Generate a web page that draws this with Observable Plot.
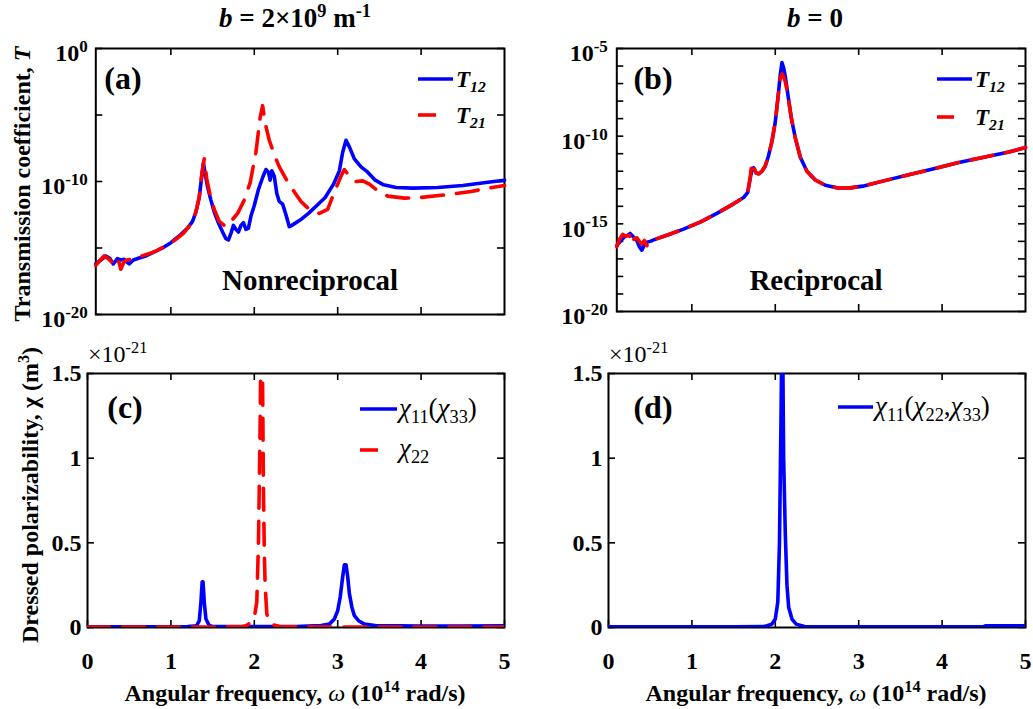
<!DOCTYPE html>
<html>
<head>
<meta charset="utf-8">
<script src="https://cdn.jsdelivr.net/npm/d3@7"></script>
<script src="https://cdn.jsdelivr.net/npm/@observablehq/plot@0.6"></script>
<style>
  body { margin: 0; background: #fff; }
  #root { position: relative; width: 1033px; height: 709px; font-family: "Liberation Serif", "Times New Roman", serif; color: #000; overflow: hidden; }
  .pl { position: absolute; }
  .lab { position: absolute; white-space: nowrap; line-height: 1; font-weight: bold; }
  .c { transform: translate(-50%, -50%); }
  .rot { transform: translate(-50%, -50%) rotate(-90deg); }
  sup { font-size: 0.68em; vertical-align: 0; position: relative; top: -0.55em; line-height: 0; }
  sub { font-size: 0.68em; vertical-align: 0; position: relative; top: 0.3em; line-height: 0; }
  .leg { position: absolute; white-space: nowrap; line-height: 1; }
</style>
</head>
<body>
<div id="root"></div>
<script>
// ---------------- DATA ----------------
// Panel (a): b = 2e9 m^-1, transmission (log10 T) vs angular frequency (1e14 rad/s)
const omegaA12 = [0.10,0.16,0.22,0.27,0.31,0.36,0.40,0.44,0.47,0.50,0.55,0.62,0.70,0.80,0.90,1.00,1.10,1.20,1.26,1.30,1.34,1.37,1.39,1.41,1.44,1.48,1.52,1.57,1.62,1.66,1.69,1.72,1.75,1.78,1.81,1.84,1.87,1.90,1.93,1.96,2.00,2.05,2.10,2.14,2.17,2.19,2.21,2.24,2.27,2.30,2.34,2.38,2.42,2.45,2.55,2.65,2.75,2.85,2.95,3.02,3.06,3.10,3.14,3.20,3.28,3.36,3.45,3.55,3.70,3.90,4.20,4.50,4.80,5.00];
const logT12A  = [-16.2,-15.9,-15.6,-15.8,-16.2,-15.8,-15.9,-15.85,-16.05,-16.2,-15.9,-15.75,-15.6,-15.3,-15.0,-14.6,-14.1,-13.5,-13.0,-12.3,-11.2,-9.6,-8.6,-9.4,-10.4,-11.4,-12.3,-13.1,-13.8,-14.3,-14.4,-13.9,-13.3,-13.6,-13.8,-13.3,-13.1,-13.6,-13.5,-12.6,-11.8,-10.6,-9.7,-9.1,-9.3,-9.9,-9.2,-9.6,-10.9,-11.5,-11.7,-12.5,-13.4,-13.3,-12.9,-12.4,-11.8,-11.2,-10.2,-9.2,-7.8,-6.9,-7.4,-8.3,-8.9,-9.3,-9.9,-10.25,-10.45,-10.5,-10.45,-10.3,-10.05,-9.9];
const omegaA21 = [0.10,0.14,0.20,0.25,0.29,0.34,0.37,0.40,0.44,0.48,0.55,0.65,0.80,0.95,1.05,1.15,1.24,1.30,1.34,1.37,1.40,1.43,1.47,1.52,1.58,1.66,1.72,1.80,1.88,1.95,2.02,2.07,2.10,2.13,2.18,2.24,2.30,2.38,2.46,2.56,2.66,2.78,2.88,2.96,3.04,3.08,3.14,3.22,3.30,3.38,3.48,3.60,3.80,4.00,4.30,4.60,4.85,5.00];
const logT21A  = [-16.3,-16.0,-15.6,-15.8,-16.05,-15.65,-15.9,-16.6,-16.0,-15.9,-15.8,-15.6,-15.3,-14.8,-14.4,-13.9,-13.2,-12.3,-11.2,-9.5,-8.3,-9.8,-11.0,-12.1,-13.0,-13.4,-13.0,-12.4,-11.4,-10.1,-7.8,-5.2,-4.3,-5.6,-6.9,-8.0,-8.9,-9.8,-10.6,-11.5,-12.1,-12.4,-12.1,-10.8,-9.6,-9.1,-9.6,-10.0,-9.95,-10.2,-10.7,-11.1,-11.25,-11.2,-11.0,-10.75,-10.45,-10.3];

// Panel (b): b = 0
const omegaB12 = [0.10,0.15,0.19,0.23,0.26,0.30,0.34,0.37,0.40,0.43,0.46,0.50,0.55,0.70,0.90,1.10,1.30,1.50,1.62,1.67,1.70,1.72,1.74,1.77,1.80,1.84,1.88,1.92,1.96,2.00,2.03,2.06,2.08,2.10,2.12,2.15,2.19,2.24,2.30,2.38,2.48,2.60,2.75,2.90,3.05,3.30,3.60,3.90,4.20,4.50,4.80,5.00];
const logT12B  = [-16.24,-15.95,-15.75,-15.65,-15.55,-15.75,-15.95,-16.3,-16.5,-16.2,-16.05,-16.0,-15.9,-15.65,-15.3,-14.9,-14.4,-13.86,-13.5,-13.2,-12.4,-11.9,-11.8,-12.1,-12.15,-12.0,-11.7,-11.1,-10.3,-9.2,-7.9,-6.5,-5.8,-6.1,-6.6,-7.6,-8.9,-10.1,-11.2,-12.0,-12.5,-12.8,-12.95,-12.95,-12.85,-12.55,-12.2,-11.86,-11.5,-11.2,-10.9,-10.65];
const omegaB21 = [0.10,0.13,0.17,0.21,0.25,0.28,0.31,0.34,0.37,0.40,0.43,0.46,0.50,0.55,0.70,0.90,1.10,1.30,1.50,1.62,1.67,1.70,1.72,1.74,1.77,1.80,1.84,1.88,1.92,1.96,2.00,2.03,2.06,2.08,2.10,2.12,2.15,2.19,2.24,2.30,2.38,2.48,2.60,2.75,2.90,3.05,3.30,3.60,3.90,4.20,4.50,4.80,5.00];
const logT21B  = [-16.3,-15.9,-15.6,-15.7,-15.65,-16.15,-15.85,-15.8,-16.0,-16.15,-15.95,-16.25,-15.95,-15.9,-15.65,-15.3,-14.9,-14.4,-13.86,-13.5,-13.2,-12.3,-11.5,-11.7,-12.1,-12.15,-12.0,-11.7,-11.1,-10.3,-9.2,-7.9,-6.7,-6.45,-6.6,-6.9,-7.6,-8.9,-10.1,-11.2,-12.0,-12.5,-12.8,-12.95,-12.95,-12.85,-12.55,-12.2,-11.86,-11.5,-11.2,-10.9,-10.65];

// Panel (c): dressed polarizability (x1e-21 m^3), b = 2e9
const omegaC11 = [0.00,0.50,1.00,1.20,1.28,1.31,1.34,1.36,1.375,1.385,1.40,1.42,1.46,1.50,1.80,2.50,2.80,2.90,2.96,3.00,3.03,3.06,3.08,3.10,3.12,3.14,3.17,3.20,3.25,3.32,3.45,4.00,4.50,5.00];
const chi11C   = [0.004,0.004,0.004,0.005,0.008,0.012,0.04,0.15,0.27,0.27,0.15,0.05,0.012,0.006,0.005,0.006,0.012,0.02,0.05,0.10,0.18,0.30,0.37,0.37,0.30,0.20,0.12,0.07,0.04,0.02,0.012,0.009,0.009,0.010];
const omegaC22 = [0.00,0.50,1.00,1.50,1.85,1.90,1.96,2.00,2.03,2.05,2.07,2.08,2.09,2.10,2.11,2.12,2.13,2.15,2.20,2.30,2.50,3.00,4.00,5.00];
const chi22C   = [0.003,0.003,0.003,0.003,0.004,0.01,0.03,0.06,0.15,0.50,1.20,1.70,1.90,1.40,0.80,0.45,0.25,0.08,0.02,0.006,0.004,0.003,0.003,0.003];

// Panel (d): b = 0
const omegaD11 = [0.00,0.50,1.00,1.50,1.85,1.90,1.96,2.00,2.03,2.05,2.07,2.08,2.09,2.10,2.12,2.14,2.16,2.20,2.25,2.35,3.00,4.00,4.50,4.52,5.00];
const chi11D   = [0.004,0.004,0.004,0.004,0.005,0.01,0.02,0.05,0.15,0.50,1.30,1.80,1.60,1.00,0.55,0.25,0.12,0.05,0.02,0.006,0.004,0.004,0.005,0.01,0.01];

// tick values / labels
const xTicksTop = [1, 2, 3, 4];
const xTicksBot = [0, 1, 2, 3, 4, 5];
const yTicksA = [1e0, 1e-5, 1e-10, 1e-15, 1e-20];
const yLabelsA = ["10^0", "", "10^-10", "", "10^-20"];
const yTicksB = d3.range(-20, -4).map(e => 10 ** e);
const yLabelExpB = [-5, -10, -15, -20];
const yTicksC = [0, 0.5, 1, 1.5];
const yLabelsC = ["0", "0.5", "1", "1.5"];

const BLUE = "#0000ff", RED = "#ff0000";
const LW = 3.6, DASH = "22,13";

// ---------------- HELPERS ----------------
const NS = "http://www.w3.org/2000/svg";
function styleTexts(svg) {
  for (const t of svg.querySelectorAll("text")) {
    t.style.fontFamily = "'Liberation Serif', serif";
    t.style.fontWeight = "bold";
    t.style.fontSize = "24px";
    t.style.fill = "#000";
    const s = t.textContent;
    const i = s.indexOf("^");
    if (i < 0) continue;
    t.textContent = "";
    const a = document.createElementNS(NS, "tspan"); a.textContent = s.slice(0, i);
    const b = document.createElementNS(NS, "tspan"); b.textContent = s.slice(i + 1);
    b.setAttribute("dy", "-0.55em"); b.style.fontSize = "17px";
    t.append(a, b);
  }
}
function rows(xs, ys, f = v => v) { return xs.map((x, i) => ({x, y: f(ys[i])})); }
const pow10 = v => 10 ** v;
const root = document.getElementById("root");
function place(svg, left, top) {
  svg.classList.add("pl"); svg.style.left = left + "px"; svg.style.top = top + "px";
  svg.style.background = "transparent"; svg.style.overflow = "visible";
  styleTexts(svg); root.appendChild(svg);
}
const TS = 7;
// frame, inward ticks on all four sides (short rules inset from the frame), labels
function frameAxes(W, H, xTicks, xLabeled, yTicks, yFmt, yPad, yDy) {
  const tk = {stroke: "#000", strokeWidth: 1.6};
  return [
    Plot.ruleX(xTicks, {x: d => d, insetTop: H - TS, ...tk}),
    Plot.ruleX(xTicks, {x: d => d, insetBottom: H - TS, ...tk}),
    Plot.ruleY(yTicks, {y: d => d, insetRight: W - TS, ...tk}),
    Plot.ruleY(yTicks, {y: d => d, insetLeft: W - TS, ...tk}),
    Plot.frame({stroke: "#000", strokeWidth: 2}),
    Plot.axisY({anchor: "left", ticks: yTicks, tickSize: 0, tickPadding: yPad, dy: yDy, label: null, tickFormat: yFmt}),
    Plot.axisX({anchor: "bottom", ticks: xTicks, tickSize: 0, tickPadding: 24, label: null, tickFormat: xLabeled ? (d => String(d)) : (() => "")})
  ];
}

// ---------------- PANEL (a) ----------------
{
  const ml = 95.3, mr = 12, mt = 48, mb = 26, w = 516, h = 340;
  place(Plot.plot({
    width: w, height: h, marginLeft: ml, marginRight: mr, marginTop: mt, marginBottom: mb,
    x: {domain: [0.1, 5], label: null},
    y: {type: "log", domain: [1e-20, 1], label: null},
    marks: [
      ...frameAxes(w - ml - mr, h - mt - mb, xTicksTop, false, yTicksA, d => yLabelsA[yTicksA.indexOf(d)] ?? "", 8, 5),
      Plot.line(rows(omegaA12, logT12A, pow10), {x: "x", y: "y", stroke: BLUE, strokeWidth: LW}),
      Plot.line(rows(omegaA21, logT21A, pow10), {x: "x", y: "y", stroke: RED, strokeWidth: LW, strokeDasharray: DASH})
    ]
  }), 0, 0);
}

// ---------------- PANEL (b) ----------------
{
  const ml = 100.3, mr = 8, mt = 48, mb = 29, w = 517, h = 340;
  place(Plot.plot({
    width: w, height: h, marginLeft: ml, marginRight: mr, marginTop: mt, marginBottom: mb,
    x: {domain: [0.1, 5], label: null},
    y: {type: "log", domain: [1e-20, 1e-5], label: null},
    marks: [
      ...frameAxes(w - ml - mr, h - mt - mb, xTicksTop, false, yTicksB, d => { const e = Math.round(Math.log10(d)); return yLabelExpB.includes(e) ? "10^" + e : ""; }, 9, 5),
      Plot.line(rows(omegaB12, logT12B, pow10), {x: "x", y: "y", stroke: BLUE, strokeWidth: LW}),
      Plot.line(rows(omegaB21, logT21B, pow10), {x: "x", y: "y", stroke: RED, strokeWidth: LW, strokeDasharray: DASH})
    ]
  }), 516, 0);
}

// ---------------- PANEL (c) ----------------
{
  const ml = 87, mr = 12, mt = 33, mb = 82, w = 516, h = 369;
  place(Plot.plot({
    width: w, height: h, marginLeft: ml, marginRight: mr, marginTop: mt, marginBottom: mb,
    x: {domain: [0, 5], label: null},
    y: {domain: [0, 1.5], label: null},
    marks: [
      ...frameAxes(w - ml - mr, h - mt - mb, xTicksBot, true, yTicksC, d => yLabelsC[yTicksC.indexOf(d)], 6, 0),
      Plot.line(rows(omegaC11, chi11C), {x: "x", y: "y", stroke: BLUE, strokeWidth: LW, clip: true}),
      Plot.line(rows(omegaC22, chi22C), {x: "x", y: "y", stroke: RED, strokeWidth: LW, strokeDasharray: DASH, clip: true})
    ]
  }), 0, 340);
}

// ---------------- PANEL (d) ----------------
{
  const ml = 92, mr = 8, mt = 33, mb = 82, w = 517, h = 369;
  place(Plot.plot({
    width: w, height: h, marginLeft: ml, marginRight: mr, marginTop: mt, marginBottom: mb,
    x: {domain: [0, 5], label: null},
    y: {domain: [0, 1.5], label: null},
    marks: [
      ...frameAxes(w - ml - mr, h - mt - mb, xTicksBot, true, yTicksC, d => yLabelsC[yTicksC.indexOf(d)], 6, 0),
      Plot.line(rows(omegaD11, chi11D), {x: "x", y: "y", stroke: BLUE, strokeWidth: LW, clip: true})
    ]
  }), 516, 340);
}

// ---------------- TEXT & LEGENDS ----------------
const html = `
<div class="lab c" style="left:295px;top:18px;font-size:27px"><i>b</i> = 2×10<sup>9</sup> m<sup>-1</sup></div>
<div class="lab c" style="left:815px;top:18px;font-size:27px"><i>b</i> = 0</div>
<div class="lab rot" style="left:22px;top:184px;font-size:24px">Transmission coefficient, <i>T</i></div>
<div class="lab rot" style="left:30px;top:495px;font-size:24px">Dressed polarizability, χ (m<sup>3</sup>)</div>
<div class="lab c" style="left:295px;top:693px;font-size:24px">Angular frequency, <i style="font-weight:normal">ω</i> (10<sup>14</sup> rad/s)</div>
<div class="lab c" style="left:816px;top:693px;font-size:24px">Angular frequency, <i style="font-weight:normal">ω</i> (10<sup>14</sup> rad/s)</div>
<div class="lab" style="left:88px;top:342px;font-size:24px;font-weight:normal">×10<sup>-21</sup></div>
<div class="lab" style="left:609px;top:342px;font-size:24px;font-weight:normal">×10<sup>-21</sup></div>
<div class="lab c" style="left:123px;top:78px;font-size:32px">(a)</div>
<div class="lab c" style="left:653px;top:78px;font-size:32px">(b)</div>
<div class="lab c" style="left:125px;top:407px;font-size:32px">(c)</div>
<div class="lab c" style="left:653px;top:407px;font-size:32px">(d)</div>
<div class="lab c" style="left:310px;top:280px;font-size:29px">Nonreciprocal</div>
<div class="lab c" style="left:816px;top:280px;font-size:29px">Reciprocal</div>
<div class="leg" style="left:456px;top:68px;font-size:23px;font-weight:bold;font-style:italic">T<sub>12</sub></div>
<div class="leg" style="left:456px;top:104px;font-size:23px;font-weight:bold;font-style:italic">T<sub>21</sub></div>
<div class="leg" style="left:975px;top:68px;font-size:23px;font-weight:bold;font-style:italic">T<sub>12</sub></div>
<div class="leg" style="left:975px;top:106px;font-size:23px;font-weight:bold;font-style:italic">T<sub>21</sub></div>
<div class="leg" style="left:399px;top:395px;font-size:27px"><i>χ</i><sub>11</sub>(<i>χ</i><sub>33</sub>)</div>
<div class="leg" style="left:399px;top:435px;font-size:27px"><i>χ</i><sub>22</sub></div>
<div class="leg" style="left:875px;top:393px;font-size:27px"><i>χ</i><sub>11</sub>(<i>χ</i><sub>22</sub>,<i>χ</i><sub>33</sub>)</div>
<svg width="1033" height="709" style="position:absolute;left:0;top:0;pointer-events:none">
  <g stroke-width="${LW}" fill="none">
    <line x1="418" x2="453" y1="79" y2="79" stroke="${BLUE}"/>
    <line x1="418" x2="453" y1="115" y2="115" stroke="${RED}" stroke-dasharray="18,40"/>
    <line x1="937" x2="972" y1="79" y2="79" stroke="${BLUE}"/>
    <line x1="937" x2="972" y1="117" y2="117" stroke="${RED}" stroke-dasharray="17,40"/>
    <line x1="360" x2="397" y1="409" y2="409" stroke="${BLUE}"/>
    <line x1="360" x2="397" y1="450" y2="450" stroke="${RED}" stroke-dasharray="18,40"/>
    <line x1="838" x2="873" y1="407" y2="407" stroke="${BLUE}"/>
  </g>
</svg>`;
root.insertAdjacentHTML("beforeend", html);
</script>
</body>
</html>
